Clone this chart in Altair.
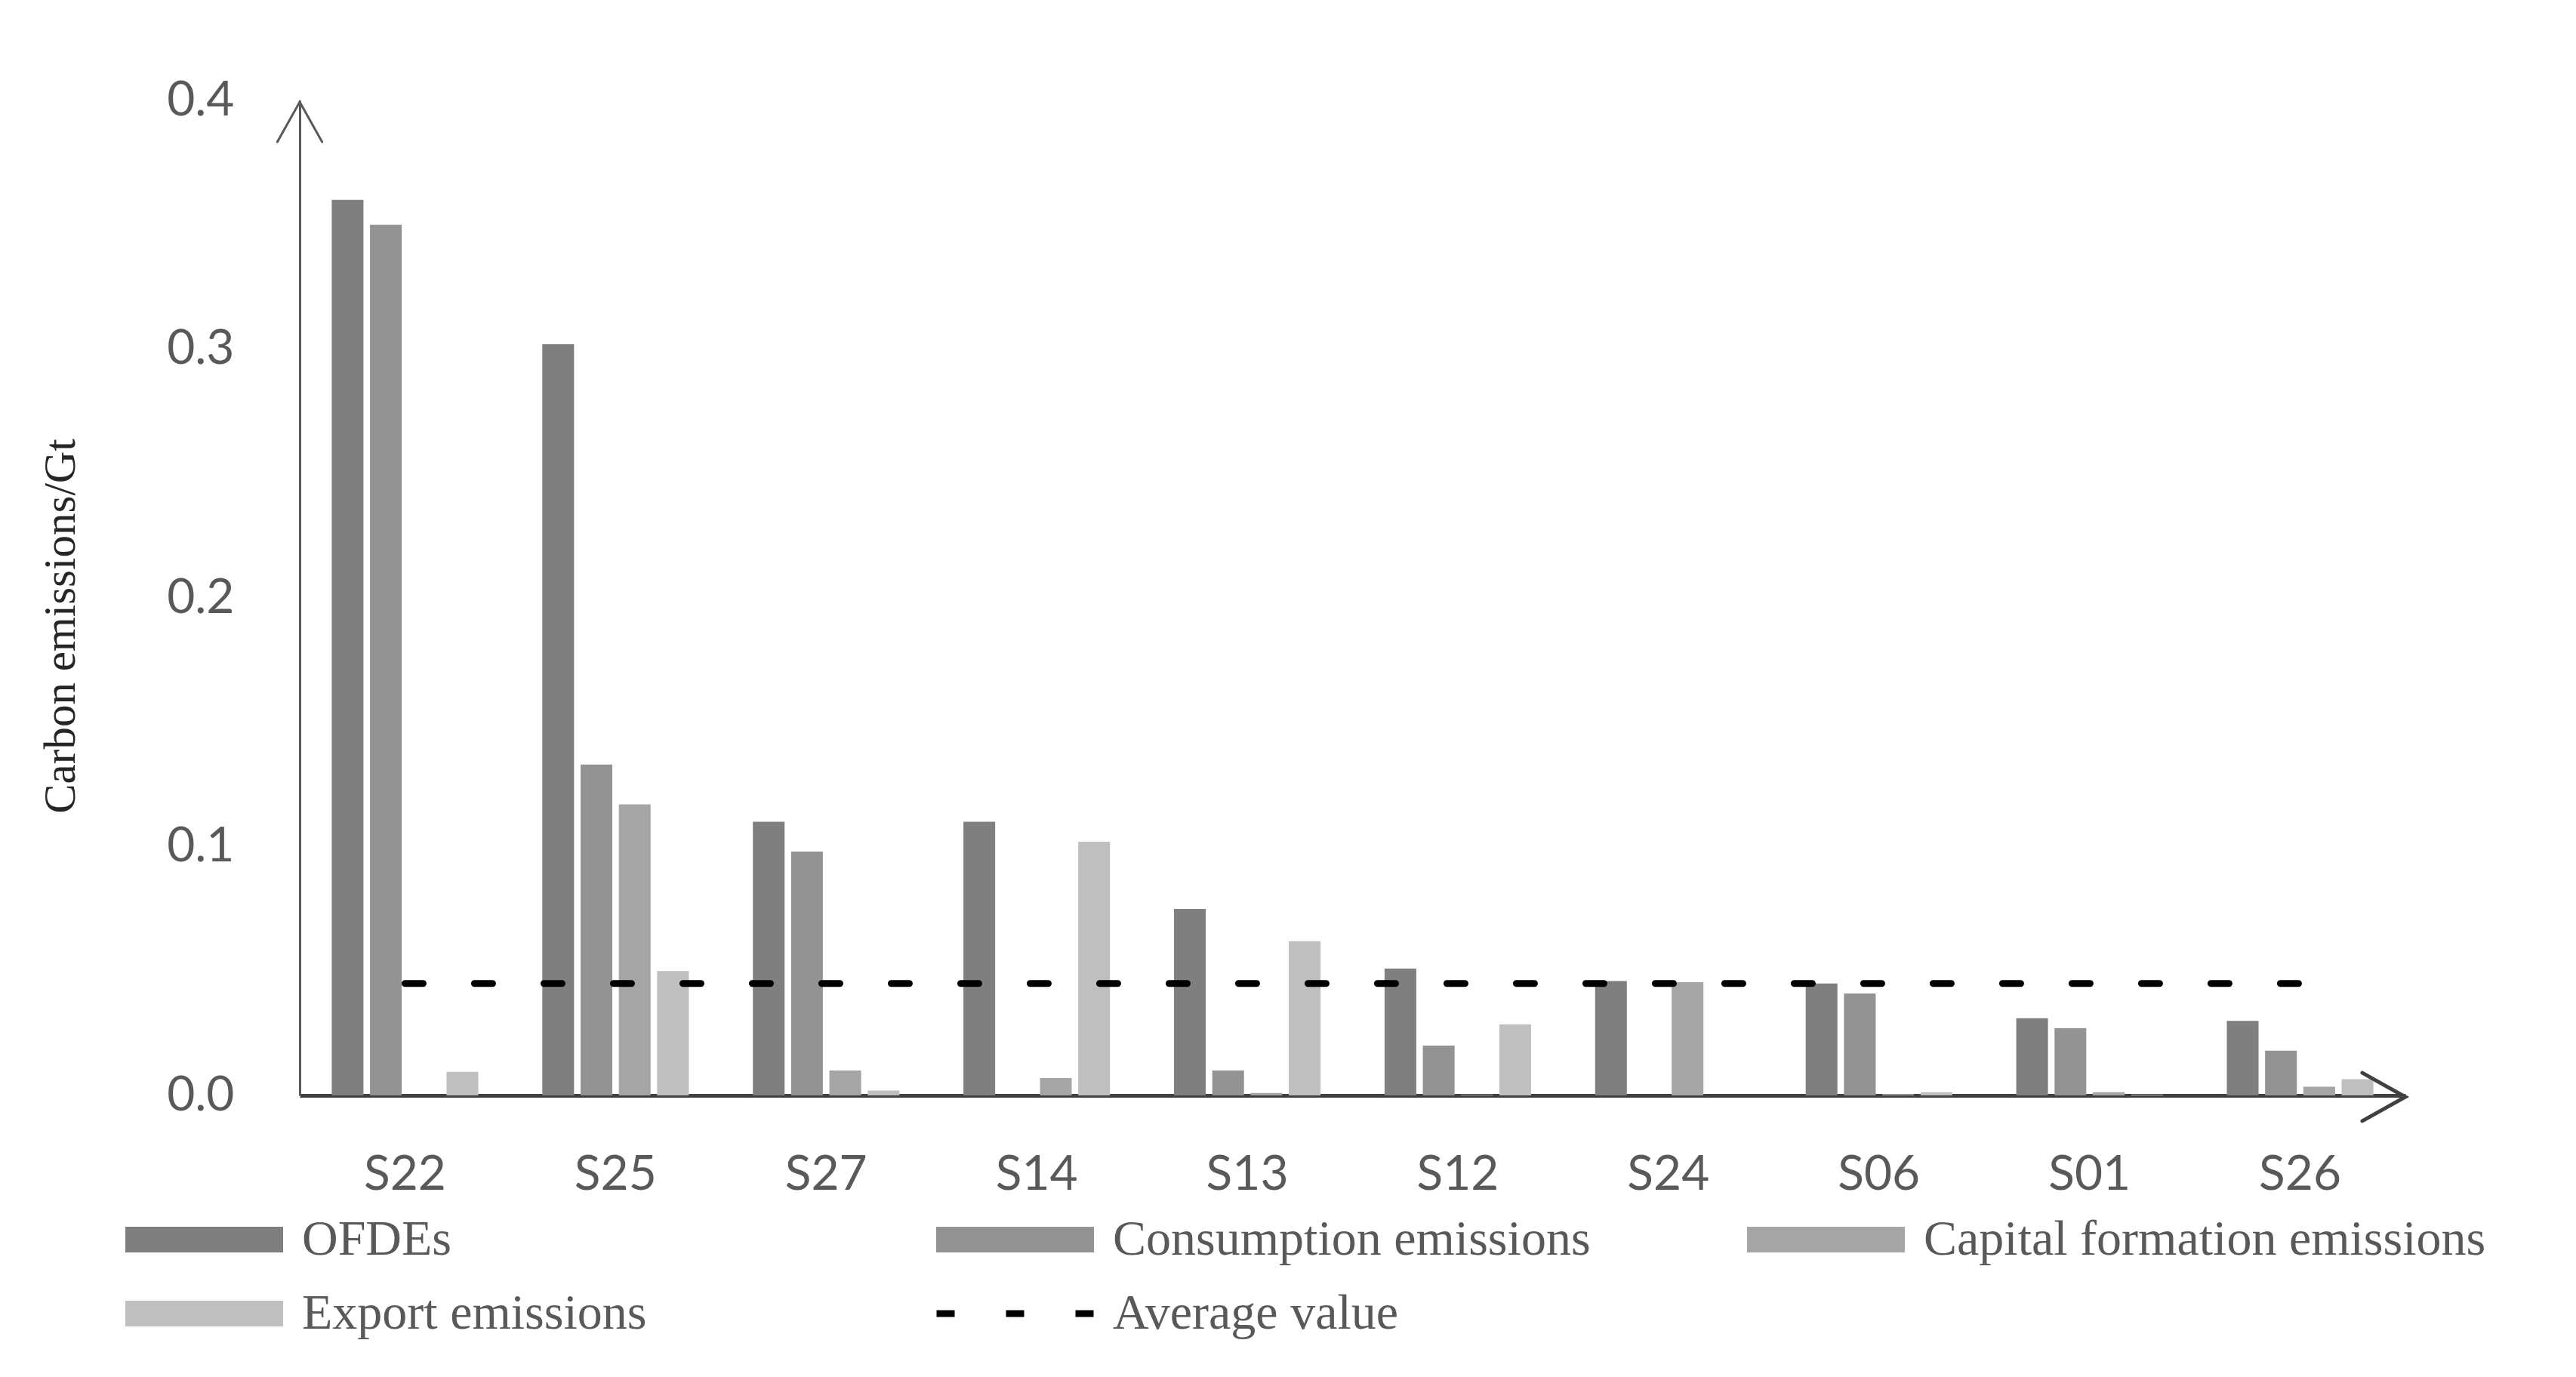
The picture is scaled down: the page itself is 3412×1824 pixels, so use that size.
import altair as alt
import pandas as pd

# ---- data ----
sectors = ["S22", "S25", "S27", "S14", "S13", "S12", "S24", "S06", "S01", "S26"]
series_names = ["OFDEs", "Consumption emissions", "Capital formation emissions", "Export emissions"]
ofdes = [0.360, 0.302, 0.110, 0.110, 0.075, 0.051, 0.046, 0.045, 0.031, 0.030]
consumption = [0.350, 0.133, 0.098, 0.0, 0.010, 0.020, 0.0, 0.041, 0.027, 0.018]
capital = [0.0, 0.117, 0.010, 0.007, 0.001, 0.0003, 0.0455, 0.0005, 0.0013, 0.0035]
export = [0.0095, 0.050, 0.002, 0.102, 0.062, 0.0285, 0.0, 0.0013, 0.0003, 0.0065]
average_value = 0.045
y_ticks = [0.0, 0.1, 0.2, 0.3, 0.4]
bar_colors = ["#7f7f7f", "#939393", "#a5a5a5", "#bfbfbf"]

rows = []
for name, vals in zip(series_names, [ofdes, consumption, capital, export]):
    for s, v in zip(sectors, vals):
        rows.append({"sector": s, "series": name, "value": v})
bars_df = pd.DataFrame(rows)
avg_df = pd.DataFrame({"sector": sectors, "value": [average_value] * len(sectors),
                       "series": ["Average value"] * len(sectors)})
one = pd.DataFrame({"k": [0]})

W, H = 2789, 1318

x_scale = alt.Scale(domain=sectors, paddingInner=0.304, paddingOuter=0.152)
y_scale = alt.Scale(domain=[0, 0.4], nice=False, zero=True)

bars = alt.Chart(bars_df).mark_bar(opacity=1).encode(
    x=alt.X("sector:N", scale=x_scale, sort=sectors,
            axis=alt.Axis(title=None, labelAngle=0, labelFont="Lato", labelFontSize=64,
                          labelColor="#595959", ticks=False, tickSize=0, labelPadding=73,
                          domainColor="#404040", domainWidth=5, grid=False)),
    xOffset=alt.XOffset("series:N", sort=series_names,
                        scale=alt.Scale(domain=series_names, paddingInner=0.171, paddingOuter=0)),
    y=alt.Y("value:Q", scale=y_scale,
            axis=alt.Axis(title="Carbon emissions/Gt", values=y_ticks, format=".1f", grid=False,
                          ticks=False, tickSize=0, labelPadding=87, labelFont="Lato",
                          labelFontSize=64, labelColor="#595959", domainColor="#595959",
                          domainWidth=3, titleFont="Liberation Serif", titleFontSize=59,
                          titleFontWeight="normal", titleColor="#262626", titleAngle=270,
                          titleAlign="center", titleBaseline="middle",
                          titleX=-317, titleY=696)),
    color=alt.Color("series:N", sort=series_names,
                    scale=alt.Scale(domain=series_names, range=bar_colors),
                    legend=alt.Legend(title=None, orient="none", legendX=-231, legendY=1476,
                                      direction="horizontal", columns=3, gridAlign="all",
                                      columnPadding=95, rowPadding=32, padding=0,
                                      clipHeight=66,
                                      symbolType="M-1,-0.163L1,-0.163L1,0.163L-1,0.163Z",
                                      symbolSize=43681, symbolStrokeWidth=0, symbolOpacity=1,
                                      labelFont="Liberation Serif", labelFontSize=66,
                                      labelColor="#595959", labelLimit=2000, labelOffset=25)),
)

avg_line = alt.Chart(avg_df).mark_line(strokeWidth=9, strokeCap="round", color="black").encode(
    x=alt.X("sector:N", scale=x_scale, sort=sectors),
    y=alt.Y("value:Q", scale=y_scale),
    strokeDash=alt.StrokeDash("series:N",
                              scale=alt.Scale(domain=["Average value"], range=[[24, 68]]),
                              legend=alt.Legend(title=None, orient="none", legendX=839,
                                                legendY=1574, padding=0, clipHeight=66,
                                                symbolType="stroke",
                                                symbolSize=47089, symbolStrokeWidth=9,
                                                symbolStrokeColor="black", symbolDash=[33, 59],
                                                labelFont="Liberation Serif", labelFontSize=66,
                                                labelColor="#595959", labelLimit=2000,
                                                labelOffset=12)),
)

x_arrow = alt.Chart(one).mark_point(
    shape="M-1,-0.56L0,0L-1,0.56", size=12996, filled=False, stroke="#404040",
    strokeWidth=5, opacity=1, strokeCap="round"
).encode(x=alt.value(W), y=alt.value(H + 2))

y_arrow = alt.Chart(one).mark_point(
    shape="M-0.56,1L0,0L0.56,1", size=11236, filled=False, stroke="#595959",
    strokeWidth=3, opacity=1, strokeCap="round"
).encode(x=alt.value(0), y=alt.value(2))

chart = alt.layer(bars, avg_line, x_arrow, y_arrow).resolve_scale(
    color="independent", strokeDash="independent"
).properties(
    width=W, height=H,
    autosize=alt.AutoSizeParams(type="none"),
    padding={"left": 389, "top": 125, "right": 218, "bottom": 365},
).configure_view(stroke=None, fill="white")

chart.save("out.html", embed_options={"renderer": "svg", "actions": False})
